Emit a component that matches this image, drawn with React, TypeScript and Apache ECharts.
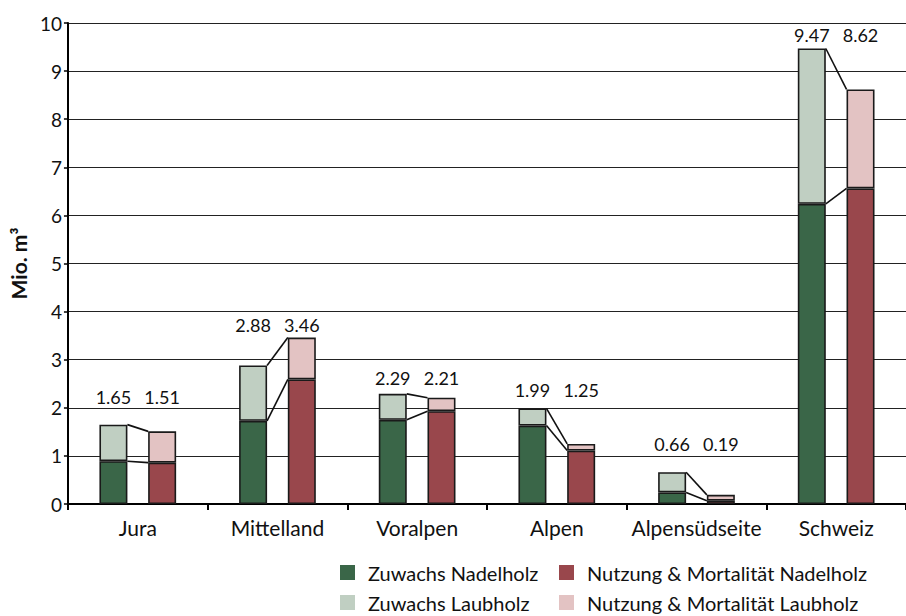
import React, { useEffect, useRef } from "react";
import * as echarts from "echarts";

const categories = ["Jura", "Mittelland", "Voralpen", "Alpen", "Alpensüdseite", "Schweiz"];
const zuwachsNadel = [0.89, 1.73, 1.75, 1.63, 0.24, 6.24];
const zuwachsTotal = [1.65, 2.88, 2.29, 1.99, 0.66, 9.47];
const nutzungNadel = [0.86, 2.59, 1.93, 1.11, 0.07, 6.56];
const nutzungTotal = [1.51, 3.46, 2.21, 1.25, 0.19, 8.62];
const yTicks = [0, 1, 2, 3, 4, 5, 6, 7, 8, 9, 10];

const zuwachsLaub = zuwachsTotal.map((t, i) => +(t - zuwachsNadel[i]).toFixed(2));
const nutzungLaub = nutzungTotal.map((t, i) => +(t - nutzungNadel[i]).toFixed(2));

const FONT = "Lato, 'Open Sans', sans-serif";
const BAR_W = 28;
const GAP_RATIO = 0.74;
const GAP = BAR_W * GAP_RATIO;
// pixel distance of the value labels above the taller bar of each pair
const labelGap = [28, 13, 16, 18, 28, 13];

const C_ZN = "#3a6648";
const C_ZL = "#c0cfc2";
const C_NN = "#99474c";
const C_NL = "#e3c3c3";

export default function App() {
  const ref = useRef<HTMLDivElement>(null);
  useEffect(() => {
    if (!ref.current) return;
    const chart = echarts.init(ref.current, null, { renderer: "svg" });
    const barItem = (color: string) => ({ color, borderColor: "#1a1a1a", borderWidth: 1.6 });
    const legendText = { fontSize: 20, lineHeight: 21, color: "#111", fontFamily: FONT, padding: [0, 0, 0, 8] };
    const option: any = {
      animation: false,
      textStyle: { fontFamily: FONT },
      grid: { left: 67, top: 23, bottom: 112, right: -6 },
      legend: [
        {
          orient: "vertical",
          left: 340,
          top: 562,
          padding: 0,
          itemWidth: 15,
          itemHeight: 15,
          itemGap: 9,
          icon: "rect",
          data: ["Zuwachs Nadelholz", "Zuwachs Laubholz"],
          textStyle: legendText,
          itemStyle: { borderWidth: 0 },
        },
        {
          orient: "vertical",
          left: 559,
          top: 562,
          padding: 0,
          itemWidth: 15,
          itemHeight: 15,
          itemGap: 9,
          icon: "rect",
          data: ["Nutzung & Mortalität Nadelholz", "Nutzung & Mortalität Laubholz"],
          textStyle: legendText,
          itemStyle: { borderWidth: 0 },
        },
      ],
      xAxis: {
        type: "category",
        data: categories,
        axisLine: { lineStyle: { color: "#000", width: 2 } },
        axisTick: { show: true, length: 6, lineStyle: { color: "#000", width: 2 } },
        axisLabel: { interval: 0, fontSize: 21, color: "#111", margin: 13, fontFamily: FONT },
      },
      yAxis: {
        type: "value",
        min: 0,
        max: yTicks[yTicks.length - 1],
        interval: 1,
        name: "Mio. m³",
        nameLocation: "middle",
        nameGap: 36,
        nameTextStyle: { fontSize: 21, fontWeight: "bold", color: "#111", fontFamily: FONT },
        axisLine: { show: true, lineStyle: { color: "#000", width: 2 } },
        axisTick: { show: true, length: 4, lineStyle: { color: "#000", width: 1.5 } },
        axisLabel: { fontSize: 19, color: "#111", margin: 6, fontFamily: FONT },
        splitLine: { lineStyle: { color: "#222", width: 1.2 } },
      },
      series: [
        { name: "Zuwachs Nadelholz", type: "bar", stack: "z", barWidth: BAR_W, data: zuwachsNadel, itemStyle: barItem(C_ZN) },
        { name: "Zuwachs Laubholz", type: "bar", stack: "z", barWidth: BAR_W, data: zuwachsLaub, itemStyle: barItem(C_ZL) },
        { name: "Nutzung & Mortalität Nadelholz", type: "bar", stack: "n", barWidth: BAR_W, data: nutzungNadel, itemStyle: barItem(C_NN) },
        {
          name: "Nutzung & Mortalität Laubholz",
          type: "bar",
          stack: "n",
          barWidth: BAR_W,
          barGap: GAP_RATIO * 100 + "%",
          data: nutzungLaub,
          itemStyle: barItem(C_NL),
        },
        {
          type: "custom",
          silent: true,
          z: 5,
          clip: false,
          data: categories.map((_, i) => [i, zuwachsNadel[i], zuwachsTotal[i], nutzungNadel[i], nutzungTotal[i]]),
          encode: { x: 0, y: [1, 2, 3, 4] },
          renderItem: (params: any, api: any) => {
            const i = api.value(0);
            const cx = api.coord([i, 0])[0];
            const x1 = cx - GAP / 2;
            const x2 = cx + GAP / 2;
            const yzn = api.coord([i, api.value(1)])[1];
            const yzt = api.coord([i, api.value(2)])[1];
            const ynn = api.coord([i, api.value(3)])[1];
            const ynt = api.coord([i, api.value(4)])[1];
            const ly = Math.min(yzt, ynt) - labelGap[i];
            const lineStyle = { stroke: "#111", lineWidth: 1.6 };
            const txt = (text: string, x: number) => ({
              type: "text",
              x,
              y: ly,
              style: {
                text,
                align: "center",
                verticalAlign: "middle",
                fontSize: 18,
                fontFamily: FONT,
                fill: "#111",
              },
            });
            return {
              type: "group",
              children: [
                { type: "line", shape: { x1, y1: yzn, x2, y2: ynn }, style: lineStyle },
                { type: "line", shape: { x1, y1: yzt, x2, y2: ynt }, style: lineStyle },
                txt(zuwachsTotal[i].toFixed(2), x1 - BAR_W / 2),
                txt(nutzungTotal[i].toFixed(2), x2 + BAR_W / 2),
              ],
            };
          },
        },
      ],
    };
    chart.setOption(option);
    return () => chart.dispose();
  }, []);
  return (
    <div
      ref={ref}
      style={{ position: "absolute", left: 0, top: 0, width: 906, height: 616, background: "#fff" }}
    />
  );
}
